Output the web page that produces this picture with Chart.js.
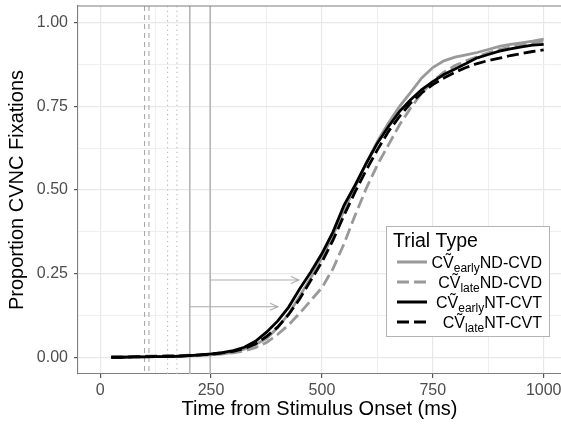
<!DOCTYPE html>
<html>
<head>
<meta charset="utf-8">
<script src="https://cdn.jsdelivr.net/npm/chart.js@4"></script>
<style>
html, body { margin: 0; padding: 0; background: #fff; }
#marco { width: 561px; height: 425px; position: relative; }
</style>
</head>
<body>
<div id="marco"><canvas id="fijaciones"></canvas></div>
<script>
// tiempo desde el inicio del estimulo (ms)
const tiempos = [25, 50, 75, 100, 125, 150, 175, 200, 225, 250, 275, 300, 325, 350, 375, 400, 425, 450, 475, 500,
    525, 550, 575, 600, 625, 650, 675, 700, 725, 750, 775, 800, 825, 850, 875, 900, 925, 950, 975, 1000];

const earlyND = [0.000, 0.000, 0.001, 0.001, 0.002, 0.003, 0.003, 0.004, 0.005, 0.007, 0.010, 0.015, 0.024, 0.038, 0.056, 0.088, 0.130, 0.183, 0.238, 0.298,
    0.365, 0.440, 0.510, 0.580, 0.645, 0.700, 0.750, 0.792, 0.835, 0.866, 0.886, 0.897, 0.904, 0.911, 0.920, 0.929, 0.935, 0.940, 0.945, 0.951];
const lateND = [0.000, 0.001, 0.002, 0.003, 0.004, 0.005, 0.005, 0.006, 0.007, 0.008, 0.010, 0.013, 0.019, 0.029, 0.044, 0.068, 0.097, 0.132, 0.170, 0.208,
    0.265, 0.340, 0.425, 0.505, 0.575, 0.635, 0.695, 0.745, 0.790, 0.825, 0.852, 0.872, 0.886, 0.898, 0.910, 0.920, 0.928, 0.934, 0.940, 0.945];
const earlyNT = [0.000, 0.000, 0.001, 0.001, 0.002, 0.002, 0.003, 0.005, 0.007, 0.010, 0.014, 0.020, 0.030, 0.048, 0.075, 0.108, 0.150, 0.205, 0.255, 0.310,
    0.375, 0.455, 0.515, 0.580, 0.640, 0.690, 0.735, 0.770, 0.800, 0.824, 0.845, 0.862, 0.878, 0.895, 0.905, 0.915, 0.922, 0.928, 0.933, 0.935];
const lateNT = [0.000, 0.000, 0.001, 0.002, 0.002, 0.003, 0.003, 0.005, 0.007, 0.009, 0.013, 0.018, 0.026, 0.040, 0.062, 0.090, 0.128, 0.175, 0.230, 0.285,
    0.350, 0.425, 0.495, 0.560, 0.620, 0.675, 0.720, 0.760, 0.790, 0.815, 0.835, 0.852, 0.866, 0.878, 0.887, 0.894, 0.902, 0.908, 0.914, 0.919];

// lineas verticales de referencia (ms)
const refDiscontinua = [100, 110];
const refPunteada = [152, 173];
const refSolida = [202, 248];

// flechas
const flechaDesde = [202, 248];
const flechaHasta = [401, 448];
const flechaY = [0.151, 0.231];

const ticksX = [0, 250, 500, 750, 1000];
const menoresX = [125, 375, 625, 875];
const ticksY = [0, 0.25, 0.5, 0.75, 1];
const menoresY = [0.125, 0.375, 0.625, 0.875];

const nombres = [
    { sub: 'early', resto: 'ND-CVD' },
    { sub: 'late', resto: 'ND-CVD' },
    { sub: 'early', resto: 'NT-CVT' },
    { sub: 'late', resto: 'NT-CVT' }
];

const fuente = "'Liberation Sans', Arial, Helvetica, sans-serif";
const GRIS = '#999999';
const guiones = [12, 5];

function puntos(serie) {
    return tiempos.map((t, i) => ({ x: t, y: serie[i] }));
}

const lineasRef = {
    id: 'lineasRef',
    beforeDatasetsDraw(chart) {
        const { ctx, chartArea: a, scales: { x } } = chart;
        const y = chart.scales.y;
        ctx.save();
        ctx.beginPath();
        ctx.rect(a.left, a.top, a.right - a.left, a.bottom - a.top);
        ctx.clip();
        const vertical = (vals, dash, color, w) => {
            ctx.strokeStyle = color;
            ctx.lineWidth = w;
            ctx.setLineDash(dash);
            vals.forEach(v => {
                const px = x.getPixelForValue(v);
                ctx.beginPath();
                ctx.moveTo(px, a.top);
                ctx.lineTo(px, a.bottom);
                ctx.stroke();
            });
        };
        vertical(refDiscontinua, [5, 4], '#a8a8a8', 1.1);
        vertical(refPunteada, [1.3, 3.4], '#b8b8b8', 1.1);
        vertical(refSolida, [], '#b5b5b5', 1.6);

        ctx.setLineDash([]);
        ctx.strokeStyle = '#adadad';
        ctx.lineWidth = 1.1;
        flechaDesde.forEach((x0, i) => {
            const px0 = x.getPixelForValue(x0);
            const px1 = x.getPixelForValue(flechaHasta[i]);
            const py = y.getPixelForValue(flechaY[i]);
            ctx.beginPath();
            ctx.moveTo(px0, py);
            ctx.lineTo(px1, py);
            ctx.moveTo(px1 - 8, py - 3.5);
            ctx.lineTo(px1, py);
            ctx.lineTo(px1 - 8, py + 3.5);
            ctx.stroke();
        });
        ctx.restore();
    },
    afterDraw(chart) {
        const { ctx, chartArea: a } = chart;
        ctx.save();
        // borde superior del panel
        ctx.strokeStyle = '#7f7f7f';
        ctx.lineWidth = 1.1;
        ctx.beginPath();
        ctx.moveTo(a.left, a.top);
        ctx.lineTo(561, a.top);
        ctx.stroke();

        // leyenda
        const bx = 386.5, by = 226.5, bw = 163, bh = 110;
        ctx.fillStyle = '#ffffff';
        ctx.fillRect(bx, by, bw, bh);
        ctx.strokeStyle = '#b3b3b3';
        ctx.lineWidth = 1;
        ctx.strokeRect(bx, by, bw, bh);

        ctx.fillStyle = '#000';
        ctx.textBaseline = 'alphabetic';
        ctx.textAlign = 'left';
        ctx.font = '19.5px ' + fuente;
        ctx.fillText('Trial Type', 393, 246.5);

        const ds = chart.data.datasets;
        nombres.forEach((n, i) => {
            const yc = 262 + i * 20;
            ctx.strokeStyle = ds[i].borderColor;
            ctx.lineWidth = 3;
            ctx.setLineDash(ds[i].borderDash || []);
            ctx.beginPath();
            ctx.moveTo(397, yc);
            ctx.lineTo(427, yc);
            ctx.stroke();
            ctx.setLineDash([]);

            ctx.fillStyle = '#000';
            ctx.font = '16px ' + fuente;
            const wBase = ctx.measureText('C\u1E7C').width;
            const wResto = ctx.measureText(n.resto).width;
            ctx.font = '12px ' + fuente;
            const wSub = ctx.measureText(n.sub).width;
            let xt = 542 - (wBase + wSub + wResto);
            const base = yc + 6;
            ctx.font = '16px ' + fuente;
            ctx.fillText('C\u1E7C', xt, base);
            xt += wBase;
            ctx.font = '12px ' + fuente;
            ctx.fillText(n.sub, xt, base + 3.5);
            xt += wSub;
            ctx.font = '16px ' + fuente;
            ctx.fillText(n.resto, xt, base);
        });
        ctx.restore();
    }
};

new Chart(document.getElementById('fijaciones').getContext('2d'), {
    type: 'line',
    data: {
        datasets: [{
            label: 'early ND-CVD',
            data: puntos(earlyND),
            borderColor: GRIS,
            borderWidth: 2.8,
            order: 3
        }, {
            label: 'late ND-CVD',
            data: puntos(lateND),
            borderColor: GRIS,
            borderWidth: 2.8,
            borderDash: guiones,
            order: 2
        }, {
            label: 'early NT-CVT',
            data: puntos(earlyNT),
            borderColor: '#000000',
            borderWidth: 2.8,
            order: 1
        }, {
            label: 'late NT-CVT',
            data: puntos(lateNT),
            borderColor: '#000000',
            borderWidth: 2.8,
            borderDash: guiones,
            order: 0
        }]
    },
    options: {
        responsive: true,
        maintainAspectRatio: false,
        animation: false,
        layout: { padding: { top: 6, right: 0, left: 0, bottom: 0 } },
        elements: { point: { radius: 0 }, line: { tension: 0, fill: false } },
        plugins: { legend: { display: false }, tooltip: { enabled: false } },
        scales: {
            x: {
                type: 'linear',
                min: -50,
                max: 1039,
                afterBuildTicks: s => { s.ticks = ticksX.concat(menoresX).map(v => ({ value: v })); },
                afterFit: s => { s.height = 51; s.paddingLeft = 0; s.paddingRight = 0; },
                ticks: {
                    color: '#4d4d4d',
                    font: { family: fuente, size: 16 },
                    padding: 3,
                    maxRotation: 0,
                    autoSkip: false,
                    callback: v => ticksX.includes(v) ? String(v) : ''
                },
                grid: {
                    color: c => ticksX.includes(c.tick.value) ? '#e8e8e8' : '#efefef',
                    lineWidth: c => ticksX.includes(c.tick.value) ? 1.2 : 1,
                    tickColor: c => ticksX.includes(c.tick.value) ? '#555555' : 'rgba(0,0,0,0)',
                    tickLength: 4
                },
                border: { color: '#7f7f7f', width: 1.1 },
                title: {
                    display: true,
                    text: 'Time from Stimulus Onset (ms)',
                    color: '#000',
                    font: { family: fuente, size: 20 },
                    padding: { top: 0, bottom: 4 }
                }
            },
            y: {
                type: 'linear',
                min: -0.05,
                max: 1.05,
                afterBuildTicks: s => { s.ticks = ticksY.concat(menoresY).map(v => ({ value: v })); },
                afterFit: s => { s.width = 78; s.paddingTop = 0; s.paddingBottom = 0; },
                ticks: {
                    color: '#4d4d4d',
                    font: { family: fuente, size: 16 },
                    padding: 6,
                    autoSkip: false,
                    callback: v => ticksY.includes(v) ? v.toFixed(2) : ''
                },
                grid: {
                    color: c => ticksY.includes(c.tick.value) ? '#e8e8e8' : '#efefef',
                    lineWidth: c => ticksY.includes(c.tick.value) ? 1.2 : 1,
                    tickColor: c => ticksY.includes(c.tick.value) ? '#555555' : 'rgba(0,0,0,0)',
                    tickLength: 4
                },
                border: { color: '#7f7f7f', width: 1.1 },
                title: {
                    display: true,
                    text: 'Proportion CVNC Fixations',
                    color: '#000',
                    font: { family: fuente, size: 20 },
                    padding: { top: 5, bottom: 0 }
                }
            }
        }
    },
    plugins: [lineasRef]
});
</script>
</body>
</html>
